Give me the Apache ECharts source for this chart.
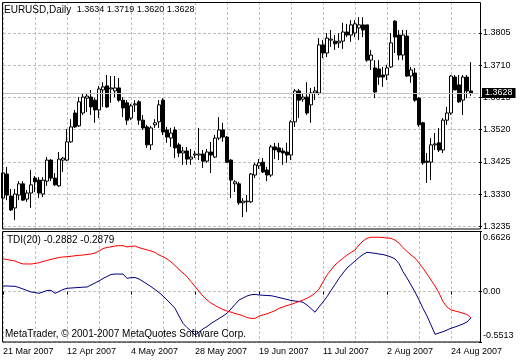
<!DOCTYPE html>
<html>
<head>
<meta charset="utf-8">
<script src="https://cdn.jsdelivr.net/npm/echarts@6/dist/echarts.min.js"></script>
<style>html,body{margin:0;padding:0;background:#fff}#c{width:520px;height:360px}</style>
</head>
<body>
<div id="c"></div>
<script>
const symbolName = 'EURUSD,Daily';
const dates = [
'21 Mar 2007','22 Mar 2007','23 Mar 2007','26 Mar 2007','27 Mar 2007','28 Mar 2007','29 Mar 2007','30 Mar 2007',
'2 Apr 2007','3 Apr 2007','4 Apr 2007','5 Apr 2007','6 Apr 2007','9 Apr 2007','10 Apr 2007','11 Apr 2007','12 Apr 2007','13 Apr 2007','16 Apr 2007','17 Apr 2007','18 Apr 2007','19 Apr 2007','20 Apr 2007','23 Apr 2007','24 Apr 2007','25 Apr 2007','26 Apr 2007','27 Apr 2007','30 Apr 2007',
'1 May 2007','2 May 2007','3 May 2007','4 May 2007','7 May 2007','8 May 2007','9 May 2007','10 May 2007','11 May 2007','14 May 2007','15 May 2007','16 May 2007','17 May 2007','18 May 2007','21 May 2007','22 May 2007','23 May 2007','24 May 2007','25 May 2007','28 May 2007','29 May 2007','30 May 2007','31 May 2007',
'1 Jun 2007','4 Jun 2007','5 Jun 2007','6 Jun 2007','7 Jun 2007','8 Jun 2007','11 Jun 2007','12 Jun 2007','13 Jun 2007','14 Jun 2007','15 Jun 2007','18 Jun 2007','19 Jun 2007','20 Jun 2007','21 Jun 2007','22 Jun 2007','25 Jun 2007','26 Jun 2007','27 Jun 2007','28 Jun 2007','29 Jun 2007',
'2 Jul 2007','3 Jul 2007','4 Jul 2007','5 Jul 2007','6 Jul 2007','9 Jul 2007','10 Jul 2007','11 Jul 2007','12 Jul 2007','13 Jul 2007','16 Jul 2007','17 Jul 2007','18 Jul 2007','19 Jul 2007','20 Jul 2007','23 Jul 2007','24 Jul 2007','25 Jul 2007','26 Jul 2007','27 Jul 2007','30 Jul 2007','31 Jul 2007',
'1 Aug 2007','2 Aug 2007','3 Aug 2007','6 Aug 2007','7 Aug 2007','8 Aug 2007','9 Aug 2007','10 Aug 2007','13 Aug 2007','14 Aug 2007','15 Aug 2007','16 Aug 2007','17 Aug 2007','20 Aug 2007','21 Aug 2007','22 Aug 2007','23 Aug 2007','24 Aug 2007','27 Aug 2007','28 Aug 2007','29 Aug 2007','30 Aug 2007','31 Aug 2007'
];
const openPrices = [
1.3318,1.3389,1.3324,1.3289,1.3327,1.3360,1.3315,1.3333,1.3377,1.3371,
1.3330,1.3368,1.3430,1.3377,1.3354,1.3430,1.3430,1.3484,1.3569,1.3531,
1.3569,1.3613,1.3616,1.3607,1.3578,1.3637,1.3649,1.3640,1.3634,1.3643,
1.3607,1.3599,1.3554,1.3593,1.3602,1.3548,1.3528,1.3475,1.3534,1.3543,
1.3607,1.3519,1.3495,1.3519,1.3475,1.3451,1.3457,1.3433,1.3445,1.3445,
1.3448,1.3427,1.3454,1.3439,1.3495,1.3519,1.3498,1.3430,1.3360,1.3360,
1.3304,1.3307,1.3307,1.3386,1.3413,1.3424,1.3401,1.3386,1.3469,1.3466,
1.3457,1.3454,1.3445,1.3543,1.3634,1.3610,1.3616,1.3593,1.3628,1.3628,
1.3770,1.3746,1.3784,1.3781,1.3776,1.3781,1.3808,1.3799,1.3805,1.3820,
1.3829,1.3829,1.3725,1.3702,1.3699,1.3681,1.3681,1.3705,1.3840,1.3799,
1.3740,1.3796,1.3678,1.3687,1.3613,1.3540,1.3427,1.3424,1.3475,1.3481,
1.3460,1.3548,1.3569,1.3675,1.3652,1.3607,1.3675,1.3634
];
const highPrices = [
1.3407,1.3410,1.3345,1.3345,1.3368,1.3368,1.3342,1.3401,1.3383,1.3380,
1.3380,1.3439,1.3433,1.3392,1.3454,1.3439,1.3522,1.3551,1.3578,1.3616,
1.3628,1.3628,1.3637,1.3613,1.3649,1.3660,1.3681,1.3678,1.3678,1.3672,
1.3616,1.3607,1.3596,1.3607,1.3607,1.3563,1.3534,1.3531,1.3551,1.3607,
1.3613,1.3528,1.3525,1.3528,1.3481,1.3469,1.3469,1.3463,1.3457,1.3525,
1.3460,1.3463,1.3484,1.3504,1.3557,1.3540,1.3501,1.3433,1.3371,1.3366,
1.3318,1.3327,1.3392,1.3422,1.3433,1.3436,1.3410,1.3475,1.3481,1.3481,
1.3466,1.3481,1.3548,1.3640,1.3640,1.3628,1.3660,1.3643,1.3646,1.3790,
1.3784,1.3805,1.3814,1.3799,1.3805,1.3835,1.3832,1.3843,1.3843,1.3852,
1.3852,1.3829,1.3755,1.3725,1.3725,1.3705,1.3711,1.3805,1.3843,1.3814,
1.3814,1.3814,1.3705,1.3702,1.3616,1.3543,1.3451,1.3495,1.3510,1.3525,
1.3554,1.3587,1.3681,1.3681,1.3681,1.3681,1.3681,1.3719
];
const lowPrices = [
1.3289,1.3312,1.3280,1.3253,1.3312,1.3309,1.3307,1.3289,1.3336,1.3318,
1.3321,1.3354,1.3368,1.3354,1.3351,1.3395,1.3427,1.3481,1.3525,1.3528,
1.3563,1.3572,1.3563,1.3540,1.3554,1.3587,1.3584,1.3599,1.3616,1.3602,
1.3557,1.3534,1.3548,1.3572,1.3534,1.3519,1.3466,1.3460,1.3525,1.3525,
1.3504,1.3481,1.3469,1.3436,1.3439,1.3416,1.3416,1.3416,1.3436,1.3430,
1.3407,1.3422,1.3392,1.3436,1.3489,1.3484,1.3422,1.3318,1.3336,1.3298,
1.3262,1.3277,1.3304,1.3377,1.3404,1.3392,1.3368,1.3380,1.3433,1.3430,
1.3416,1.3422,1.3430,1.3528,1.3554,1.3602,1.3563,1.3540,1.3607,1.3622,
1.3731,1.3734,1.3764,1.3755,1.3761,1.3758,1.3793,1.3779,1.3793,1.3784,
1.3793,1.3720,1.3696,1.3613,1.3652,1.3646,1.3666,1.3702,1.3746,1.3725,
1.3725,1.3675,1.3658,1.3602,1.3528,1.3416,1.3363,1.3371,1.3460,1.3454,
1.3451,1.3534,1.3563,1.3637,1.3599,1.3563,1.3613,1.3620
];
const closePrices = [
1.3392,1.3327,1.3283,1.3330,1.3360,1.3312,1.3333,1.3357,1.3366,1.3333,
1.3371,1.3430,1.3377,1.3357,1.3433,1.3436,1.3484,1.3528,1.3528,1.3602,
1.3616,1.3619,1.3587,1.3578,1.3640,1.3646,1.3587,1.3643,1.3643,1.3607,
1.3584,1.3548,1.3590,1.3596,1.3548,1.3525,1.3475,1.3525,1.3540,1.3593,
1.3513,1.3498,1.3510,1.3466,1.3451,1.3457,1.3433,1.3439,1.3448,1.3448,
1.3427,1.3454,1.3445,1.3495,1.3519,1.3498,1.3424,1.3371,1.3366,1.3304,
1.3309,1.3309,1.3389,1.3416,1.3422,1.3395,1.3386,1.3469,1.3460,1.3454,
1.3451,1.3445,1.3543,1.3634,1.3607,1.3616,1.3569,1.3628,1.3634,1.3770,
1.3746,1.3790,1.3787,1.3773,1.3781,1.3808,1.3799,1.3829,1.3832,1.3829,
1.3814,1.3725,1.3740,1.3631,1.3675,1.3675,1.3702,1.3776,1.3793,1.3740,
1.3799,1.3678,1.3696,1.3607,1.3534,1.3422,1.3424,1.3475,1.3478,1.3460,
1.3548,1.3569,1.3678,1.3637,1.3602,1.3675,1.3634,1.3628
];
const tdiBlue = [
0.061,0.061,0.059,0.058,0.045,0.028,0.012,-0.004,-0.010,-0.019,
-0.004,0.012,0.014,-0.019,0.001,0.023,0.036,0.039,0.042,0.045,
0.048,0.050,0.072,0.094,0.116,0.143,0.165,0.187,0.192,0.192,
0.192,0.145,0.152,0.154,0.138,0.110,0.083,0.054,0.023,-0.010,
-0.048,-0.092,-0.136,-0.183,-0.267,-0.347,-0.393,-0.431,-0.475,-0.442,
-0.409,-0.382,-0.349,-0.322,-0.294,-0.267,-0.237,-0.190,-0.141,-0.092,
-0.070,-0.048,-0.035,-0.030,-0.037,-0.040,-0.043,-0.045,-0.054,-0.065,
-0.075,-0.086,-0.097,-0.103,-0.108,-0.117,-0.147,-0.185,-0.226,-0.168,
-0.114,-0.056,0.012,0.078,0.145,0.203,0.258,0.296,0.335,0.373,
0.406,0.430,0.424,0.419,0.411,0.405,0.393,0.378,0.357,0.307,
0.218,0.149,0.072,-0.004,-0.092,-0.183,-0.267,-0.365,-0.467,-0.453,
-0.439,-0.420,-0.401,-0.387,-0.371,-0.354,-0.332,-0.2882
];
const tdiRed = [
0.357,0.351,0.342,0.335,0.316,0.302,0.302,0.302,0.307,0.316,
0.329,0.340,0.353,0.362,0.373,0.378,0.382,0.386,0.392,0.397,
0.400,0.406,0.411,0.422,0.444,0.471,0.482,0.490,0.499,0.502,
0.502,0.488,0.495,0.499,0.480,0.469,0.455,0.444,0.428,0.400,
0.381,0.357,0.324,0.285,0.242,0.203,0.163,0.110,0.056,0.001,
-0.048,-0.092,-0.125,-0.152,-0.176,-0.196,-0.212,-0.225,-0.240,-0.251,
-0.265,-0.284,-0.293,-0.293,-0.267,-0.256,-0.243,-0.226,-0.210,-0.183,
-0.168,-0.152,-0.141,-0.125,-0.108,-0.092,-0.073,-0.048,-0.019,0.028,
0.105,0.182,0.236,0.291,0.329,0.364,0.400,0.428,0.455,0.510,
0.553,0.583,0.594,0.594,0.594,0.592,0.586,0.583,0.564,0.531,
0.480,0.439,0.400,0.367,0.313,0.255,0.192,0.127,0.061,-0.015,
-0.110,-0.168,-0.201,-0.212,-0.223,-0.237,-0.250,-0.2879
];
const priceTicks = [1.3235, 1.3330, 1.3425, 1.3520, 1.3615, 1.3710, 1.3805];
const tdiTicks = [-0.5513, 0, 0.6626];
const priceMin = 1.32268, priceMax = 1.38965;
const tdiMin = -0.5513, tdiMax = 0.6626;
const copyright = 'MetaTrader, \u00a9 2001-2007 MetaQuotes Software Corp.';

const FONT = 'Liberation Sans, Arial, sans-serif';
const last = closePrices.length - 1;
const xCats = dates.concat(['', '']);
const candleData = openPrices.map((o, i) => [o, closePrices[i], lowPrices[i], highPrices[i]]);
const gridDash = { color: '#c0c0c0', type: [3, 2], width: 1 };

const chart = echarts.init(document.getElementById('c'), null, { renderer: 'canvas' });
const option = {
  animation: false,
  backgroundColor: '#ffffff',
  textStyle: { fontFamily: FONT },
  grid: [
    { left: 3, top: 2, width: 476, height: 227, show: false },
    { left: 3, top: 231, width: 476, height: 111, show: false }
  ],
  xAxis: [
    { type: 'category', gridIndex: 0, data: xCats, boundaryGap: false,
      axisLine: { show: false }, axisTick: { show: false }, axisLabel: { show: false },
      splitLine: { show: true, interval: 7, lineStyle: gridDash } },
    { type: 'category', gridIndex: 1, data: xCats, boundaryGap: false,
      axisLine: { show: false },
      axisTick: { show: true, interval: 15, length: 3, lineStyle: { color: '#000', width: 1 } },
      axisLabel: { interval: 15, align: 'left', fontSize: 9, color: '#000', margin: 5, fontFamily: FONT },
      splitLine: { show: true, interval: 7, lineStyle: gridDash } }
  ],
  yAxis: [
    { type: 'value', gridIndex: 0, position: 'right', min: priceMin, max: priceMax,
      axisLine: { show: false },
      axisTick: { show: true, length: 3, customValues: priceTicks, lineStyle: { color: '#000' } },
      axisLabel: { customValues: priceTicks, formatter: v => v.toFixed(4), fontSize: 9, margin: 4, color: '#000', fontFamily: FONT },
      splitLine: { show: true, lineStyle: gridDash } },
    { type: 'value', gridIndex: 1, position: 'right', min: tdiMin, max: tdiMax,
      axisLine: { show: false },
      axisTick: { show: true, length: 3, customValues: tdiTicks, lineStyle: { color: '#000' } },
      axisLabel: { customValues: tdiTicks, fontSize: 9, margin: 4, color: '#000', fontFamily: FONT,
        formatter: v => {
          if (v === tdiMax) return '{t|' + v.toFixed(4) + '}';
          if (v === tdiMin) return '{b|' + v.toFixed(4) + '}';
          return '{m|' + v.toFixed(2) + '}';
        },
        rich: {
          t: { fontSize: 9, padding: [14, 0, 0, 0], fontFamily: FONT, color: '#000' },
          b: { fontSize: 9, padding: [0, 0, 13, 0], fontFamily: FONT, color: '#000' },
          m: { fontSize: 9, fontFamily: FONT, color: '#000' }
        } },
      splitLine: { show: true, lineStyle: gridDash } }
  ],
  series: [
    { type: 'candlestick', name: symbolName, xAxisIndex: 0, yAxisIndex: 0, data: candleData,
      barWidth: 3, z: 3,
      itemStyle: { color: '#ffffff', color0: '#000000', borderColor: '#000000', borderColor0: '#000000', borderColorDoji: '#000000', borderWidth: 1 },
      markLine: { silent: true, symbol: ['none', 'none'], animation: false, precision: 4,
        data: [{ yAxis: closePrices[last] }],
        lineStyle: { color: '#c0c0c0', type: 'solid', width: 1 },
        label: { show: true, position: 'end', distance: 3, formatter: () => closePrices[last].toFixed(4),
          color: '#fff', backgroundColor: '#000', padding: [1, 3, 0, 3], fontSize: 9, fontFamily: FONT },
        emphasis: { disabled: true } } },
    { type: 'line', name: 'TDI blue', xAxisIndex: 1, yAxisIndex: 1, data: tdiBlue, showSymbol: false,
      lineStyle: { color: '#000080', width: 1 }, itemStyle: { color: '#000080' } },
    { type: 'line', name: 'TDI red', xAxisIndex: 1, yAxisIndex: 1, data: tdiRed, showSymbol: false,
      lineStyle: { color: '#ff0000', width: 1 }, itemStyle: { color: '#ff0000' } }
  ],
  graphic: [
    { type: 'rect', silent: true, z: 10, shape: { x: 2.5, y: 2.5, width: 478, height: 226.5 },
      style: { fill: 'none', stroke: '#000', lineWidth: 1 } },
    { type: 'rect', silent: true, z: 10, shape: { x: 2.5, y: 231.5, width: 478, height: 110.5 },
      style: { fill: 'none', stroke: '#000', lineWidth: 1 } },
    { type: 'text', silent: true, z: 11, left: 4, top: 5,
      style: { text: '{a|' + symbolName + '}  {b|' + [openPrices[last], highPrices[last], lowPrices[last], closePrices[last]].map(v => v.toFixed(4)).join(' ') + '}',
        rich: { a: { fontSize: 10, fontFamily: FONT, fill: '#000' }, b: { fontSize: 9, fontFamily: FONT, fill: '#000' } },
        fill: '#000', font: '10px ' + FONT } },
    { type: 'text', silent: true, z: 11, left: 7, top: 235,
      style: { text: 'TDI(20) ' + tdiBlue[last].toFixed(4) + ' ' + tdiRed[last].toFixed(4), fill: '#000', font: '10px ' + FONT } },
    { type: 'text', silent: true, z: 11, left: 5, top: 329,
      style: { text: copyright, fill: '#000', font: '10px ' + FONT } }
  ]
};
chart.setOption(option);
</script>
</body>
</html>
